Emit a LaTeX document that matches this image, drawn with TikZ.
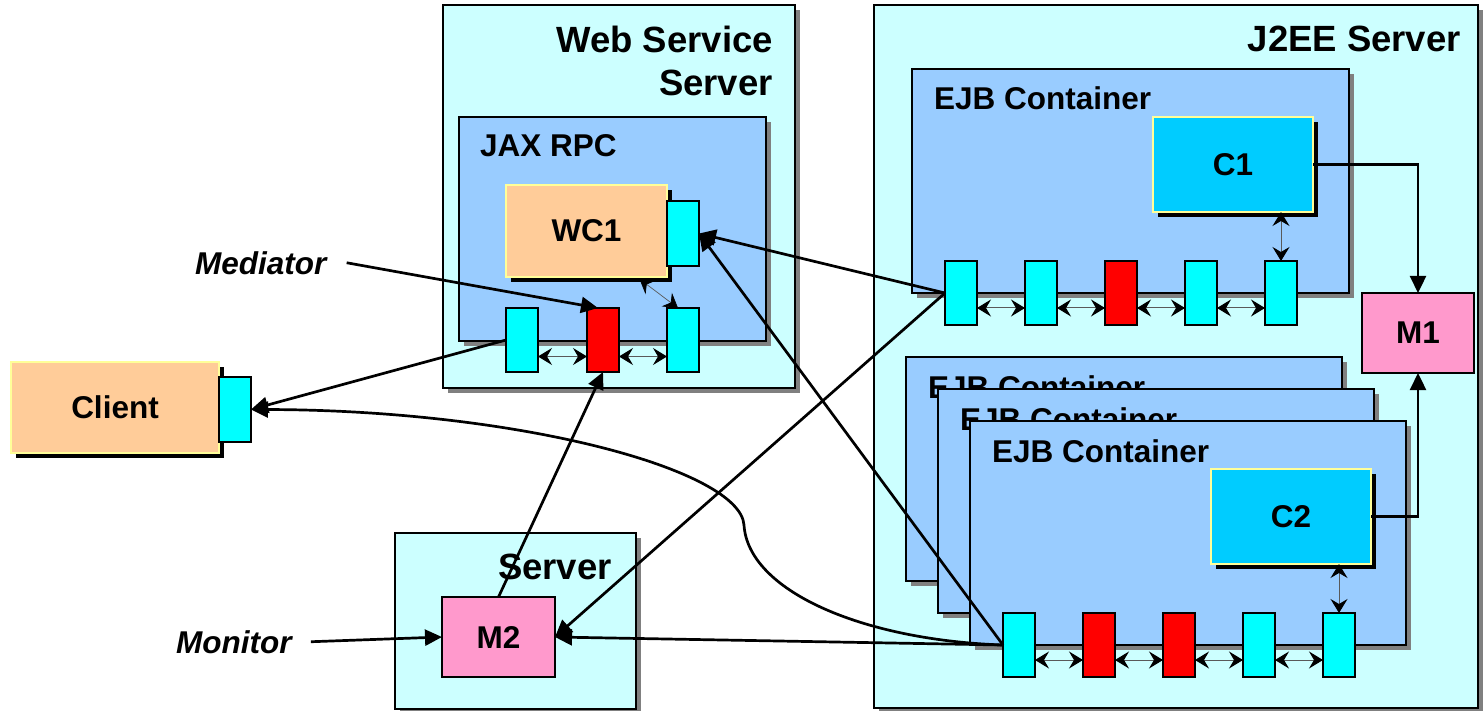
\documentclass[tikz,border=0pt]{standalone}
\usepackage{fontspec}
\setmainfont{Liberation Sans}
\usetikzlibrary{arrows.meta,shadows}

\definecolor{srvbg}{HTML}{CCFFFF}
\definecolor{contbg}{HTML}{99CCFF}
\definecolor{compbg}{HTML}{00CCFF}
\definecolor{clientbg}{HTML}{FFCC99}
\definecolor{portbg}{HTML}{00FFFF}
\definecolor{monbg}{HTML}{FF99CC}
\definecolor{paleyellow}{HTML}{FFFF99}
\definecolor{shadowgray}{HTML}{808080}

\newcommand\ttlfont{\fontsize{36.5}{43}\selectfont\bfseries}
\newcommand\lblfont{\fontsize{31.5}{36}\selectfont\bfseries}
\newcommand\notefont{\fontsize{31.5}{36}\selectfont\bfseries\itshape}

\tikzset{
  box/.style={rectangle, inner sep=0pt, outer sep=0pt, anchor=north west},
  grayshadow/.style={general shadow={fill=shadowgray, shadow xshift=5pt, shadow yshift=-5pt}},
  blackshadow/.style={general shadow={fill=black, shadow xshift=5pt, shadow yshift=-5pt}},
  srv/.style={box, fill=srvbg, draw=black, line width=2.8pt, grayshadow},
  cont/.style={box, fill=contbg, draw=black, line width=2.8pt, grayshadow},
  comp/.style={box, draw=paleyellow, line width=1.8pt, blackshadow, font=\lblfont},
  port/.style={box, fill=portbg, draw=black, line width=2.8pt, minimum width=32pt, minimum height=64pt},
  mon/.style={box, fill=monbg, draw=black, line width=2.8pt, font=\lblfont},
  title/.style={inner sep=0pt, font=\ttlfont},
  label/.style={inner sep=0pt, font=\lblfont, anchor=base west},
  note/.style={inner sep=0pt, font=\notefont, anchor=base west},
  conn/.style={line width=2.7pt, -{Triangle[length=17pt,width=16pt]}},
  link/.style={line width=2.7pt},
  dbl/.style={line width=1pt, draw=black!65,
    {Stealth[length=14pt,width=17pt,inset=5pt,color=black]}-{Stealth[length=14pt,width=17pt,inset=5pt,color=black]}},
}

\begin{document}
\begin{tikzpicture}[x=1pt,y=-1pt]
\useasboundingbox (0,0) rectangle (1483,711);
\fill[white] (0,0) rectangle (1483,711);

% ---------------- Web Service Server ----------------
\node[srv, minimum width=352pt, minimum height=383pt] (ws) at (443,5) {};
\node[title, anchor=north east, align=right] (wsT) at (773,25.5) {Web Service\\Server};
\node[cont, minimum width=307pt, minimum height=224pt] (jax) at (459,117) {};
\node[label] (jaxT) at (480,157) {JAX RPC};
\node[comp, fill=clientbg, minimum width=161pt, minimum height=92pt] (wc1) at (506,185) {WC1};
\node[port, minimum height=65pt] (wc1p) at (667,201) {};
\node[port] (wsp1) at (506,308) {};
\node[port, fill=red] (wsp2) at (587,308) {};
\node[port] (wsp3) at (667,308) {};
\draw[dbl] ([yshift=-16.5pt]wsp1.east) -- ([yshift=-16.5pt]wsp2.west);
\draw[dbl] ([yshift=-16.5pt]wsp2.east) -- ([yshift=-16.5pt]wsp3.west);
\draw[dbl, line width=0.7pt] ([xshift=53pt,yshift=-2pt]wc1.south) -- ([xshift=-5pt]wsp3.north);

% ---------------- J2EE Server ----------------
\node[srv, minimum width=604pt, minimum height=703pt] (j2ee) at (874,5) {};
\node[title, anchor=base east] (j2eeT) at (1461,52) {J2EE Server};

% upper EJB container
\node[cont, minimum width=437pt, minimum height=224pt] (ejbA) at (912,69) {};
\node[label] (ejbAT) at (934,110) {EJB Container};
\node[comp, fill=compbg, minimum width=160pt, minimum height=95pt] (c1) at (1153,117) {C1};
\foreach \i/\c in {1/portbg,2/portbg,3/red,4/portbg,5/portbg}
  \node[port, fill=\c] (ep\i) at ({945+80*(\i-1)},261) {};
\foreach \i [evaluate=\i as \j using int(\i+1)] in {1,...,4}
  \draw[dbl] ([yshift=-15pt]ep\i.east) -- ([yshift=-15pt]ep\j.west);
\draw[dbl] (ep5.north) -- (ep5.north |- c1.south);

\node[mon, minimum width=112pt, minimum height=80pt] (m1) at (1362,293) {M1};

% stacked EJB containers
\node[cont, minimum width=436pt, minimum height=224pt] (ejbB1) at (906,357) {};
\node[label] (ejbB1T) at (928,398) {EJB Container};
\node[cont, minimum width=436pt, minimum height=224pt] (ejbB2) at (938,389) {};
\node[label] (ejbB2T) at (960,430) {EJB Container};
\node[cont, minimum width=436pt, minimum height=224pt] (ejbB3) at (970,421) {};
\node[label] (ejbB3T) at (992,462) {EJB Container};
\node[comp, fill=compbg, minimum width=160pt, minimum height=95pt] (c2) at (1211,469) {C2};
\foreach \i/\c in {1/portbg,2/red,3/red,4/portbg,5/portbg}
  \node[port, fill=\c] (fp\i) at ({1003+80*(\i-1)},613) {};
\foreach \i [evaluate=\i as \j using int(\i+1)] in {1,...,4}
  \draw[dbl] ([yshift=-15pt]fp\i.east) -- ([yshift=-15pt]fp\j.west);
\draw[dbl] (fp5.north) -- (fp5.north |- c2.south);

\draw[conn, line width=2.3pt] (c1.east) -| (m1.north);
\draw[conn, line width=2.3pt] (c2.east) -| (m1.south);

% ---------------- Client ----------------
\node[comp, fill=clientbg, minimum width=208pt, minimum height=91pt] (client) at (11,362) {Client};
\node[port, minimum height=65pt] (clientp) at (219,377) {};

% ---------------- Monitor server ----------------
\node[srv, minimum width=241pt, minimum height=176pt] (mon) at (395,533) {};
\node[title, anchor=base east] (monT) at (612,579) {Server};
\node[mon, minimum width=113pt, minimum height=80pt] (m2) at (442,597) {M2};

% ---------------- annotations ----------------
\node[note] (med) at (195,275) {Mediator};
\node[note] (moni) at (176,653) {Monitor};

% ---------------- connectors ----------------
\coordinate (bend) at (744,525);
\draw[conn] ([xshift=20pt,yshift=1pt]med.east) -- ([xshift=-5pt]wsp2.north);
\draw[conn] ([xshift=19pt]moni.east) -- (m2.west);
\draw[conn] (wsp1.west) -- (clientp.east);
\draw[link] (fp1.west) .. controls (860,640) and (748,590) .. (bend);
\draw[conn] (bend) .. controls (740,470) and (520,410) .. (clientp.east);
\draw[conn] (m2.north) -- (wsp2.south);
\draw[conn] (ep1.west) -- (wc1p.east);
\draw[conn] (ep1.west) -- (m2.east);
\draw[conn] (fp1.west) -- (wc1p.east);
\draw[conn] (fp1.west) -- (m2.east);
\end{tikzpicture}
\end{document}
